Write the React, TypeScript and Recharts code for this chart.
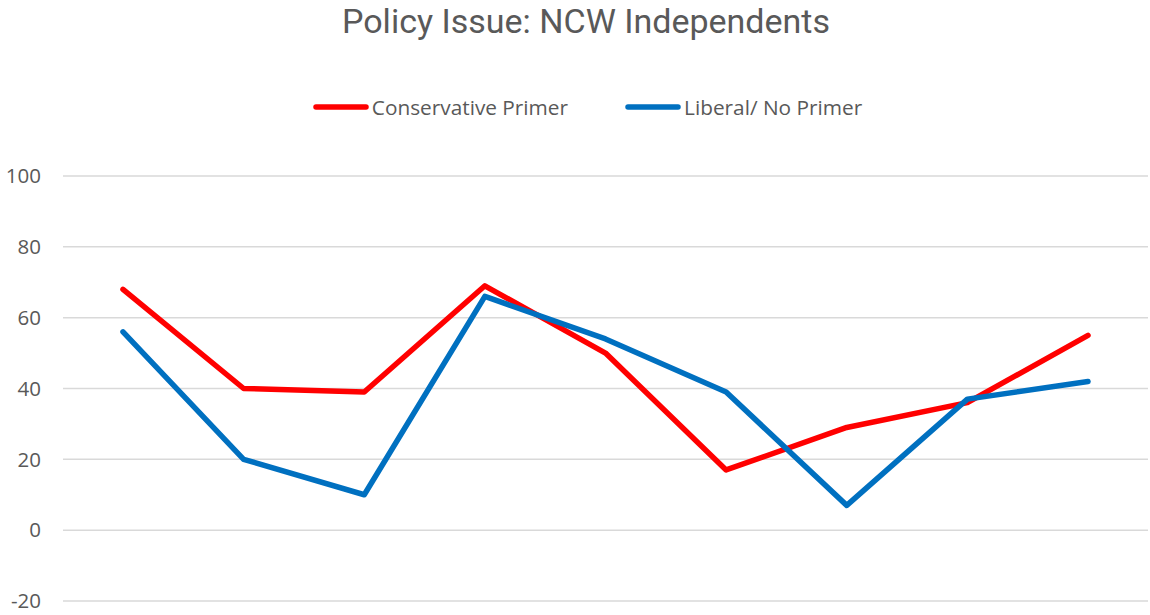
import { LineChart, Line, XAxis, YAxis, CartesianGrid, Legend } from 'recharts'

const categories = ['1', '2', '3', '4', '5', '6', '7', '8', '9']
const conservativePrimer = [68, 40, 39, 69, 50, 17, 29, 36, 55]
const liberalNoPrimer = [56, 20, 10, 66, 54, 39, 7, 37, 42]
const yTicks = [-20, 0, 20, 40, 60, 80, 100]

const series = [
  { key: 'conservative', name: 'Conservative Primer', color: '#FF0000' },
  { key: 'liberal', name: 'Liberal/ No Primer', color: '#0070C0' },
]

const data = categories.map((c, i) => ({
  category: c,
  conservative: conservativePrimer[i],
  liberal: liberalNoPrimer[i],
}))

const FONT = '"Open Sans", "Noto Sans", sans-serif'
const TEXT = '#595959'

const renderLegend = () => (
  <div style={{ display: 'flex', justifyContent: 'center', gap: 56, paddingLeft: 26 }}>
    {series.map((s) => (
      <div key={s.key} style={{ display: 'flex', alignItems: 'center' }}>
        <svg width={60} height={10}>
          <line x1={4} y1={5} x2={54} y2={5} stroke={s.color} strokeWidth={5.5} strokeLinecap="round" />
        </svg>
        <span style={{ fontFamily: FONT, fontSize: 20.8, color: TEXT }}>{s.name}</span>
      </div>
    ))}
  </div>
)

export default function App() {
  return (
    <div style={{ position: 'absolute', left: 0, top: 0, width: 1150, height: 615, background: '#fff' }}>
      <div
        style={{
          position: 'absolute',
          left: 0,
          top: 1,
          width: 1150,
          paddingLeft: 22,
          boxSizing: 'border-box',
          textAlign: 'center',
          fontFamily: 'Roboto, "Open Sans", sans-serif',
          fontSize: 34,
          lineHeight: 'normal',
          color: TEXT,
        }}
      >
        Policy Issue: NCW Independents
      </div>
      <LineChart width={1150} height={615} data={data} margin={{ top: 136, right: 2, bottom: 14, left: 0 }}>
        <CartesianGrid vertical={false} stroke="#d9d9d9" strokeWidth={1.5} />
        <XAxis dataKey="category" hide padding={{ left: 60, right: 60 }} />
        <YAxis
          domain={[-20, 100]}
          ticks={yTicks}
          width={63}
          axisLine={false}
          tickLine={false}
          tickSize={0}
          tickMargin={22}
          tick={{ fill: TEXT, fontSize: 20.5, fontFamily: FONT }}
        />
        <Legend verticalAlign="top" height={40} content={renderLegend} wrapperStyle={{ top: 93 }} />
        {series.map((s) => (
          <Line
            key={s.key}
            type="linear"
            dataKey={s.key}
            name={s.name}
            stroke={s.color}
            strokeWidth={5.5}
            strokeLinecap="round"
            strokeLinejoin="round"
            dot={false}
            activeDot={false}
            isAnimationActive={false}
          />
        ))}
      </LineChart>
    </div>
  )
}
